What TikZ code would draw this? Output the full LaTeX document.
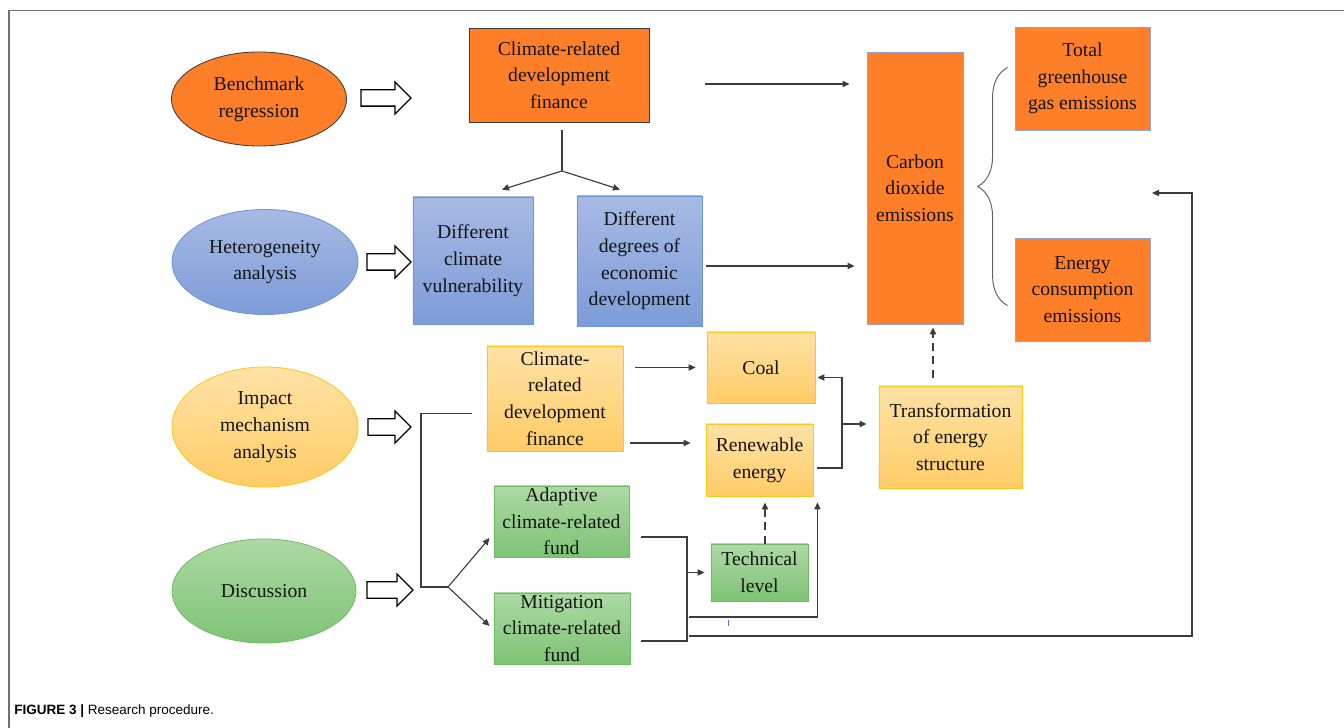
\documentclass[tikz,border=0pt]{standalone}
\usepackage{fontspec}
\setmainfont{Liberation Serif}
\newfontfamily\capfont{Liberation Sans}
\usetikzlibrary{
	arrows.meta,
	calc,
	positioning,
	shapes.geometric,
	shapes.arrows,
	decorations.pathreplacing
}
\definecolor{TextDark}{HTML}{141414}
\definecolor{LineGray}{HTML}{3C3C3C}
\definecolor{FrameGray}{HTML}{707070}
\definecolor{OrangeFill}{HTML}{FE7F27}
\definecolor{OrangeEdge}{HTML}{8FA6D0}
\definecolor{BlueTop}{HTML}{A7BAE4}
\definecolor{BlueBot}{HTML}{7D9CD8}
\definecolor{BlueEdge}{HTML}{6A97DB}
\definecolor{YellowTop}{HTML}{FFE2A5}
\definecolor{YellowBot}{HTML}{FFCC66}
\definecolor{YellowEdge}{HTML}{FFC61A}
\definecolor{GreenTop}{HTML}{ADD9A5}
\definecolor{GreenBot}{HTML}{7EC375}
\definecolor{GreenEdge}{HTML}{74BA66}
\tikzset{
	RP-Box/.style={rectangle,align=center,inner sep=0pt,text=TextDark,
		font=\fontsize{14}{19}\selectfont},
	RP-Phase/.style={ellipse,align=center,inner sep=0pt,text=TextDark,
		font=\fontsize{14}{19}\selectfont},
	RP-Orange/.style={fill=OrangeFill,draw=OrangeEdge,line width=0.6pt},
	RP-Blue/.style={top color=BlueTop,bottom color=BlueBot,draw=BlueEdge,line width=0.6pt},
	RP-Yellow/.style={top color=YellowTop,bottom color=YellowBot,draw=YellowEdge,line width=0.6pt},
	RP-Green/.style={top color=GreenTop,bottom color=GreenBot,draw=GreenEdge,line width=0.6pt},
	RP-Hollow/.style={single arrow,draw=black,line width=0.9pt,fill=white,inner xsep=0pt,
		inner ysep=0.1875cm,single arrow head extend=0.2cm,single arrow head indent=0pt},
	RP-Line/.style={draw=LineGray,line width=0.8pt},
	RP-Arrow/.style={RP-Line,-{Triangle[length=5pt,width=4.5pt]}},
	RP-Dashed/.style={RP-Arrow,line width=1pt,dash pattern=on 0.2cm off 0.13cm}
}

\begin{document}
\begin{tikzpicture}[x=0.025cm,y=-0.025cm]
	\useasboundingbox (0,0) rectangle (1344,728);
	\draw [FrameGray,line width=1.2pt] (9.3,728) -- (9.3,10.5) -- (1344,10.5);
	% the four steps
	\node [RP-Phase,RP-Orange,draw=LineGray,minimum width=4.375cm,minimum height=2.35cm]
		(node_bench) at (259,99) {Benchmark\\regression};
	\node [RP-Phase,RP-Blue,minimum width=4.65cm,minimum height=2.625cm]
		(node_het) at (265,262) {Heterogeneity\\analysis};
	\node [RP-Phase,RP-Yellow,minimum width=4.65cm,minimum height=3cm]
		(node_imp) at (265,427) {Impact\\mechanism\\analysis};
	\node [RP-Phase,RP-Green,minimum width=4.6cm,minimum height=2.6cm]
		(node_disc) at (264,591) {Discussion};
	\node [RP-Hollow,minimum height=1.25cm] (hollow_bench) at (382,98) {};
	\node [RP-Hollow,minimum height=1.1cm] (hollow_het) at (385,262) {};
	\node [RP-Hollow,minimum height=1.075cm] (hollow_imp) at (385.5,427) {};
	\node [RP-Hollow,minimum height=1.15cm] (hollow_disc) at (386,590) {};
	% boxes
	\node [RP-Box,RP-Orange,draw=LineGray,minimum width=4.5cm,minimum height=2.35cm]
		(node_fin) at (559,75) {Climate-related\\development\\finance};
	\node [RP-Box,RP-Blue,minimum width=3cm,minimum height=3.175cm]
		(node_vuln) at (473,260.5) {Different\\climate\\vulnerability};
	\node [RP-Box,RP-Blue,minimum width=3.125cm,minimum height=3.25cm]
		(node_econ) at (639.5,261) {Different\\degrees of\\economic\\development};
	\node [RP-Box,RP-Orange,minimum width=2.4cm,minimum height=6.8cm]
		(node_co2) at (915,188) {Carbon\\dioxide\\emissions};
	\node [RP-Box,RP-Orange,minimum width=3.375cm,minimum height=2.575cm]
		(node_ghg) at (1082.5,78.5) {Total\\greenhouse\\gas emissions};
	\node [RP-Box,RP-Orange,minimum width=3.375cm,minimum height=2.575cm]
		(node_ece) at (1082.5,289.5) {Energy\\consumption\\emissions};
	\node [RP-Box,RP-Yellow,minimum width=3.4cm,minimum height=2.625cm]
		(node_mfin) at (555,398.5) {Climate-\\related\\development\\finance};
	\node [RP-Box,RP-Yellow,minimum width=2.7cm,minimum height=1.775cm]
		(node_coal) at (761,367.5) {Coal};
	\node [RP-Box,RP-Yellow,minimum width=2.675cm,minimum height=1.8cm]
		(node_renew) at (759.5,460) {Renewable\\energy};
	\node [RP-Box,RP-Yellow,minimum width=3.575cm,minimum height=2.55cm]
		(node_trans) at (950.5,437) {Transformation\\of energy\\structure};
	\node [RP-Box,RP-Green,minimum width=3.375cm,minimum height=1.775cm]
		(node_adapt) at (561.5,521.5) {Adaptive\\climate-related\\fund};
	\node [RP-Box,RP-Green,minimum width=3.4cm,minimum height=1.775cm]
		(node_mitig) at (562,628.5) {Mitigation\\climate-related\\fund};
	\node [RP-Box,RP-Green,minimum width=2.425cm,minimum height=1.425cm]
		(node_tech) at (759.5,572.5) {Technical\\level};
	% joints of the connectors
	\coordinate (split) at (562,171);
	\coordinate (bend_t) at (842,424);
	\coordinate (fork_v) at (421,587);
	\coordinate (fork_d) at (448,587);
	\coordinate (join_a) at (687,537);
	\coordinate (join_m) at (687,641);
	\coordinate (join_r) at (689,617);
	\coordinate (join_l) at (689,636);
	\coordinate (back_r) at (1192,193);
	\coordinate (back_t) at (1152,193);
	% connectors
	\draw [RP-Arrow,shorten <=1.4cm,shorten >=0.425cm] ([shift={(0,9)}]node_fin.east)
		-- ([shift={(0,9)}]node_fin.east -| node_co2.west);
	\draw [RP-Arrow,shorten <=0.1cm,shorten >=0.3cm] ([shift={(0,5)}]node_econ.east)
		-- ([shift={(0,5)}]node_econ.east -| node_co2.west);
	\draw [RP-Line,shorten <=0.2cm] (node_fin.south -| split) -- (split);
	\draw [RP-Arrow] (split) -- ([shift={(29,-7)}]node_vuln.north);
	\draw [RP-Arrow] (split) -- ([shift={(-19.5,-6)}]node_econ.north);
	\draw [LineGray!80,line width=0.7pt,decorate,decoration={brace,amplitude=0.75cm}]
		([shift={(-7,16)}]node_ece.west) -- ([shift={(-7,-11)}]node_ghg.west);
	\draw [RP-Dashed,shorten <=0.2cm,shorten >=0.075cm] ([shift={(-17.5,0)}]node_trans.north)
		-- ([shift={(-17.5,0)}]node_trans.north |- node_co2.south);
	\draw [RP-Arrow,shorten <=0.3cm,shorten >=0.275cm] (node_mfin.east |- node_coal.west) -- (node_coal.west);
	\draw [RP-Arrow,shorten <=0.175cm,shorten >=0.375cm] ([shift={(0,-17)}]node_renew.west -| node_mfin.east)
		-- ([shift={(0,-17)}]node_renew.west);
	\draw [RP-Arrow] ([shift={(4,8)}]node_renew.east) -| ([shift={(0,10)}]node_coal.east -| bend_t)
		-- ([shift={(2,10)}]node_coal.east);
	\draw [RP-Arrow,shorten >=0.3cm] (bend_t) -- (bend_t -| node_trans.west);
	\draw [RP-Line] ([shift={(-15,15)}]node_mfin.west) -| (fork_v) -- (fork_d);
	\draw [RP-Arrow] (fork_d) -- ([shift={(-4,16.5)}]node_adapt.west);
	\draw [RP-Arrow] (fork_d) -- ([shift={(-4,-2.5)}]node_mitig.west);
	\draw [RP-Line,shorten <=0.3cm,shorten >=0.275cm] (node_adapt.east |- join_a) -- (join_a)
		-- (join_m) -- (node_mitig.east |- join_m);
	\draw [RP-Arrow,shorten >=0.15cm] (join_a |- node_tech.west) -- (node_tech.west);
	\draw [RP-Arrow] (join_r) -| ([shift={(4,6)}]node_renew.south east);
	\draw [RP-Arrow] (join_l) -| (back_r) -- (back_t);
	\draw [RP-Dashed] ([shift={(5.5,0)}]node_tech.north) -- ([shift={(5.5,6)}]node_renew.south);
	\draw [blue!60,line width=0.5pt] (728,620) -- (728,626);
	\node [anchor=base west,font=\capfont\fontsize{9.6}{12}\selectfont,text=black,inner sep=0pt]
		(node_caption) at (14,714) {\textbf{FIGURE 3 |} Research procedure.};
\end{tikzpicture}
\end{document}
